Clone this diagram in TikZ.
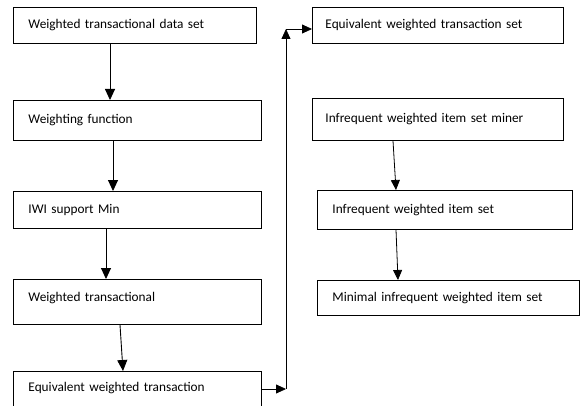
\documentclass[tikz,border=0pt]{standalone}
\usepackage{fontspec}
\setmainfont{Carlito}
\usetikzlibrary{arrows.meta}
\begin{document}
\begin{tikzpicture}[x=1pt,y=-1pt,
  box/.style={draw=black, line width=0.9pt, anchor=north west, inner ysep=0pt, align=left, font=\fontsize{13.3}{16}\selectfont, text=black},
  arr/.style={line width=0.9pt, -{Triangle[width=10pt,length=11pt]}},
  arrs/.style={line width=0.8pt, -{Triangle[width=9pt,length=10pt]}}]
\useasboundingbox (0,0) rectangle (580,406);
\clip (0,0) rectangle (580,406);
% left column
\node[box, inner xsep=15pt, text width=213pt, minimum height=36pt] (L1) at (13,7) {Weighted transactional data set};
\node[box, inner xsep=15pt, text width=218pt, minimum height=40pt] (L2) at (13,100) {Weighting function};
\node[box, inner xsep=15pt, text width=218pt, minimum height=37pt] (L3) at (13,191) {IWI support Min};
\node[box, inner xsep=15pt, text width=218pt, minimum height=45pt, text depth=10pt] (L4) at (13,279) {Weighted transactional};
\node[box, inner xsep=15pt, text width=218pt, minimum height=60pt, text depth=29pt] (L5) at (13,371) {Equivalent weighted transaction};
% right column
\node[box, inner xsep=13pt, text width=225pt, minimum height=36pt] (R1) at (312,7) {Equivalent weighted transaction set};
\node[box, inner xsep=13pt, text width=225pt, minimum height=42pt] (R2) at (312,98) {Infrequent weighted item set miner};
\node[box, inner xsep=15pt, text width=225pt, minimum height=39pt] (R3) at (317,190) {Infrequent weighted item set};
\node[box, inner xsep=15pt, text width=232pt, minimum height=35pt] (R4) at (317,280) {Minimal infrequent weighted item set};
% arrows
\draw[arr] ([xshift=97pt]L1.south west) -- ([xshift=97pt]L2.north west);
\draw[arr] ([xshift=100pt]L2.south west) -- ([xshift=100pt]L3.north west);
\draw[arr] ([xshift=93pt]L3.south west) -- ([xshift=93pt]L4.north west);
\draw[arr] ([xshift=107pt]L4.south west) -- ([xshift=110pt]L5.north west);
\draw[arrs] ([xshift=81pt]R2.south west) -- ([xshift=79pt]R3.north west);
\draw[arrs] ([xshift=79pt]R3.south west) -- ([xshift=81pt]R4.north west);
% loop connector
\coordinate (c1) at (286,389);
\coordinate (c2) at (286,29);
\draw[arrs] (L5.north east |- c1) -- (c1);
\draw[arrs] (c1) -- (c2);
\draw[arrs] (c2) -- (R1.west |- c2);
\end{tikzpicture}
\end{document}
